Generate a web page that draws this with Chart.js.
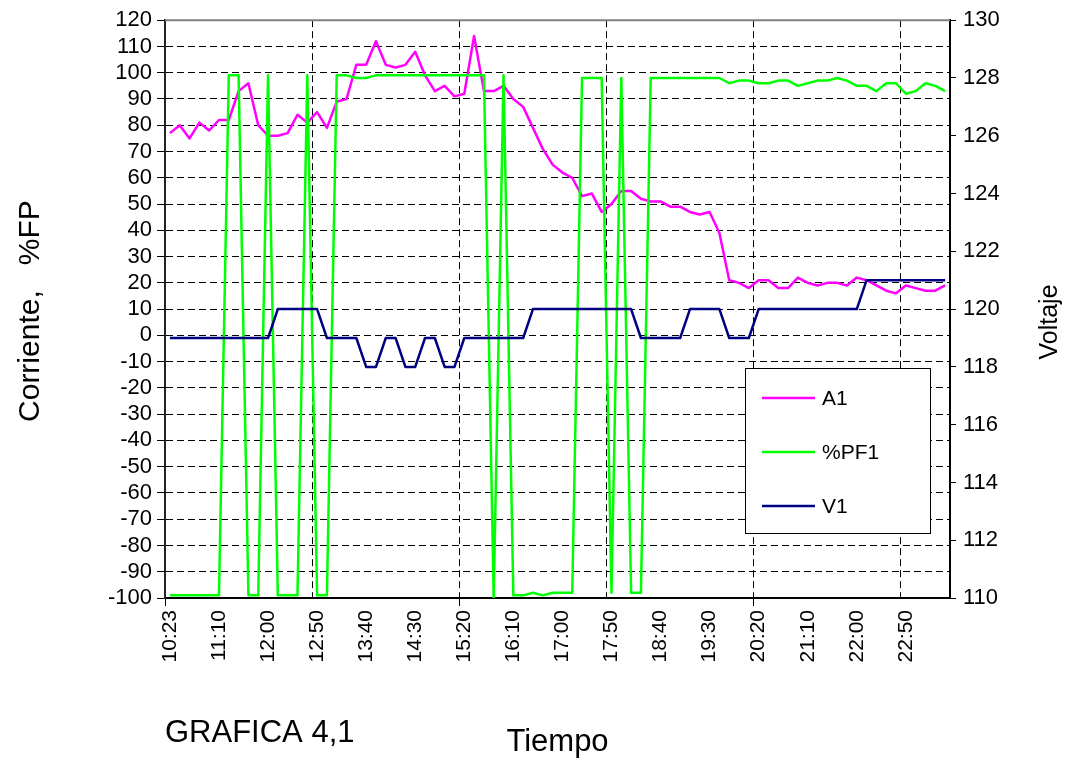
<!DOCTYPE html>
<html>
<head>
<meta charset="utf-8">
<script src="https://cdn.jsdelivr.net/npm/chart.js@4"></script>
<style>
  html, body { margin: 0; padding: 0; background: #fff; }
  #wrap { width: 1071px; height: 762px; }
</style>
</head>
<body>
<div id="wrap"><canvas id="grafica" width="1071" height="762"></canvas></div>
<script>
// horas de medicion (cada 10 min)
const tiempos = [
  '10:23','10:30','10:40','10:50','11:00','11:10','11:20','11:30','11:40','11:50',
  '12:00','12:10','12:20','12:30','12:40','12:50','13:00','13:10','13:20','13:30',
  '13:40','13:50','14:00','14:10','14:20','14:30','14:40','14:50','15:00','15:10',
  '15:20','15:30','15:40','15:50','16:00','16:10','16:20','16:30','16:40','16:50',
  '17:00','17:10','17:20','17:30','17:40','17:50','18:00','18:10','18:20','18:30',
  '18:40','18:50','19:00','19:10','19:20','19:30','19:40','19:50','20:00','20:10',
  '20:20','20:30','20:40','20:50','21:00','21:10','21:20','21:30','21:40','21:50',
  '22:00','22:10','22:20','22:30','22:40','22:50','23:00','23:10','23:20','23:30'
];

// corriente A1
const a1 = [
  77, 80, 75, 81, 78, 82, 82, 93, 96, 80,
  76, 76, 77, 84, 81, 85, 79, 89, 90, 103,
  103, 112, 103, 102, 103, 108, 99, 93, 95, 91,
  92, 114, 93, 93, 95, 90, 87, 79, 71, 65,
  62, 60, 53, 54, 47, 50, 55, 55, 52, 51,
  51, 49, 49, 47, 46, 47, 39, 21, 20, 18,
  21, 21, 18, 18, 22, 20, 19, 20, 20, 19,
  22, 21, 19, 17, 16, 19, 18, 17, 17, 19
];

// factor de potencia %PF1
const pf1 = [
  -99, -99, -99, -99, -99, -99, 99, 99, -99, -99,
  99, -99, -99, -99, 99, -99, -99, 99, 99, 98,
  98, 99, 99, 99, 99, 99, 99, 99, 99, 99,
  99, 99, 99, -100, 99, -99, -99, -98, -99, -98,
  -98, -98, 98, 98, 98, -98, 98, -98, -98, 98,
  98, 98, 98, 98, 98, 98, 98, 96, 97, 97,
  96, 96, 97, 97, 95, 96, 97, 97, 98, 97,
  95, 95, 93, 96, 96, 92, 93, 96, 95, 93
];

// voltaje V1
const v1 = [
  119, 119, 119, 119, 119, 119, 119, 119, 119, 119,
  119, 120, 120, 120, 120, 120, 119, 119, 119, 119,
  118, 118, 119, 119, 118, 118, 119, 119, 118, 118,
  119, 119, 119, 119, 119, 119, 119, 120, 120, 120,
  120, 120, 120, 120, 120, 120, 120, 120, 119, 119,
  119, 119, 119, 120, 120, 120, 120, 119, 119, 119,
  120, 120, 120, 120, 120, 120, 120, 120, 120, 120,
  120, 121, 121, 121, 121, 121, 121, 121, 121, 121
];

const FUENTE = "'Liberation Sans', Arial, sans-serif";

// marco superior, titulos y leyenda
const extras = {
  id: 'extras',
  afterDraw(chart) {
    const c = chart.ctx;
    const area = chart.chartArea;
    c.save();

    c.strokeStyle = '#808080';
    c.lineWidth = 2;
    c.beginPath();
    c.moveTo(area.left, area.top);
    c.lineTo(area.right, area.top);
    c.stroke();

    c.fillStyle = '#000';
    c.textBaseline = 'middle';
    c.textAlign = 'center';

    c.font = '30px ' + FUENTE;
    c.save();
    c.translate(31, (area.top + area.bottom) / 2 + 2);
    c.rotate(-Math.PI / 2);
    c.fillText('Corriente,   %FP', 0, 0);
    c.restore();

    c.font = '25px ' + FUENTE;
    c.save();
    c.translate(1050, 322);
    c.rotate(-Math.PI / 2);
    c.fillText('Voltaje', 0, 0);
    c.restore();

    c.font = '31px ' + FUENTE;
    c.fillText('Tiempo', (area.left + area.right) / 2, 742);
    c.textAlign = 'left';
    c.fillText('GRAFICA 4,1', 165, 733);

    // leyenda
    const bx = 745, by = 368, bw = 185, bh = 165;
    c.fillStyle = '#fff';
    c.fillRect(bx, by, bw, bh);
    c.strokeStyle = '#000';
    c.lineWidth = 1;
    c.strokeRect(bx + 0.5, by + 0.5, bw, bh);
    c.font = '21px ' + FUENTE;
    chart.data.datasets.forEach((ds, i) => {
      const y = by + 30 + i * 54;
      c.strokeStyle = ds.borderColor;
      c.lineWidth = 2.5;
      c.beginPath();
      c.moveTo(bx + 17, y);
      c.lineTo(bx + 70, y);
      c.stroke();
      c.fillStyle = '#000';
      c.fillText(ds.label, bx + 77, y + 1);
    });
    c.restore();
  }
};

new Chart(document.getElementById('grafica'), {
  type: 'line',
  data: {
    labels: tiempos,
    datasets: [
      { label: 'A1', data: a1, borderColor: '#FF00FF', yAxisID: 'y', order: 2 },
      { label: '%PF1', data: pf1, borderColor: '#00FF00', yAxisID: 'y', order: 1 },
      { label: 'V1', data: v1, borderColor: '#000080', yAxisID: 'y1', order: 0 }
    ]
  },
  options: {
    responsive: false,
    animation: false,
    layout: { padding: { top: 17, left: 0, right: 0, bottom: 0 } },
    elements: {
      point: { radius: 0 },
      line: { borderWidth: 2.5, tension: 0, borderJoinStyle: 'round' }
    },
    plugins: { legend: { display: false }, tooltip: { enabled: false } },
    scales: {
      x: {
        type: 'category',
        offset: true,
        grid: {
          offset: true,
          lineWidth: 1,
          color: ctx => (ctx.index > 0 && ctx.index % 15 === 0) ? '#000' : 'rgba(0,0,0,0)',
          tickColor: ctx => (ctx.index % 30 === 0) ? '#000' : 'rgba(0,0,0,0)',
          tickLength: 8
        },
        border: { display: true, color: '#000', width: 2, dash: [7, 4] },
        ticks: {
          autoSkip: false,
          minRotation: 90,
          maxRotation: 90,
          padding: 4,
          color: '#000',
          font: { family: FUENTE, size: 21 },
          callback: function (val, i) { return i % 5 === 0 ? this.getLabelForValue(val) : ''; }
        },
        afterFit: s => { s.height = 164; }
      },
      y: {
        position: 'left',
        min: -100,
        max: 120,
        grid: {
          lineWidth: 1,
          color: ctx => (ctx.index === 0 || ctx.index === 22) ? 'rgba(0,0,0,0)' : '#000',
          tickColor: '#000',
          tickLength: 8
        },
        border: { display: true, color: '#222', width: 2, dash: [7, 4] },
        ticks: {
          stepSize: 10,
          autoSkip: false,
          padding: 5,
          color: '#000',
          font: { family: FUENTE, size: 22 }
        },
        afterFit: s => { s.width = 165; }
      },
      y1: {
        position: 'right',
        min: 110,
        max: 130,
        grid: { drawOnChartArea: false, tickColor: '#000', tickLength: 6 },
        border: { display: true, color: '#000', width: 2 },
        ticks: {
          stepSize: 2,
          autoSkip: false,
          padding: 7,
          color: '#000',
          font: { family: FUENTE, size: 22 }
        },
        afterFit: s => { s.width = 121; }
      }
    }
  },
  plugins: [extras]
});
</script>
</body>
</html>
